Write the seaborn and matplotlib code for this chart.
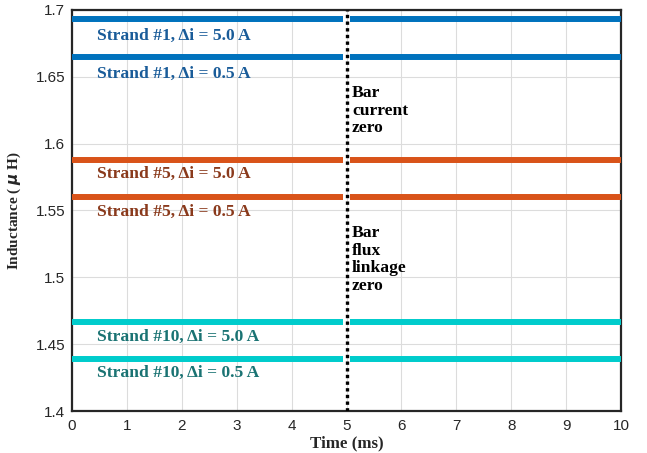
import matplotlib
matplotlib.use("Agg")
import matplotlib.pyplot as plt
import seaborn as sns
import pandas as pd

# Inductance of each strand before and after the bar-zero instant (µH)
series_names = [
    "Strand #1, Δi = 5.0 A",
    "Strand #1, Δi = 0.5 A",
    "Strand #5, Δi = 5.0 A",
    "Strand #5, Δi = 0.5 A",
    "Strand #10, Δi = 5.0 A",
    "Strand #10, Δi = 0.5 A",
]
inductance_before = [1.693, 1.665, 1.5878, 1.5603, 1.4666, 1.4391]
inductance_after = [1.693, 1.665, 1.5878, 1.5603, 1.4666, 1.4391]

# Time spans of the two segments (ms), interrupted around the 5 ms event
segment_before = [0.0, 4.93]
segment_after = [5.07, 10.0]
event_time = 5.0

line_colors = ["#0072BD", "#0072BD", "#D95319", "#D95319", "#00CCCC", "#00CCCC"]
label_colors = ["#1A5C99", "#1A5C99", "#8A3A1C", "#8A3A1C", "#1A7373", "#1A7373"]
label_x = [0.46, 0.46, 0.46, 0.46, 0.46, 0.46]
label_y = [1.6805, 1.6521, 1.5771, 1.5491, 1.4551, 1.4282]

event_notes = ["Bar\ncurrent\nzero", "Bar\nflux\nlinkage\nzero"]
note_x = [5.1, 5.1]
note_y = [1.6438, 1.5390]

x_ticks = list(range(0, 11))
y_ticks = [1.4, 1.45, 1.5, 1.55, 1.6, 1.65, 1.7]
y_tick_labels = ["1.4", "1.45", "1.5", "1.55", "1.6", "1.65", "1.7"]

rows = []
for name, vb, va in zip(series_names, inductance_before, inductance_after):
    for t in segment_before:
        rows.append({"time": t, "L": vb, "series": name, "segment": "before"})
    for t in segment_after:
        rows.append({"time": t, "L": va, "series": name, "segment": "after"})
df = pd.DataFrame(rows)

sns.set_style("white")
plt.rcParams["font.family"] = ["Liberation Sans", "DejaVu Sans"]

fig = plt.figure(figsize=(6.47, 4.53), dpi=100)
ax = fig.add_axes([0.1113, 0.0927, 0.8485, 0.8853])

for name, lc in zip(series_names, line_colors):
    for seg in ["before", "after"]:
        sub = df[(df["series"] == name) & (df["segment"] == seg)]
        sns.lineplot(data=sub, x="time", y="L", color=lc, linewidth=4.3,
                     solid_capstyle="butt", ax=ax, legend=False, zorder=3)

ax.axvline(event_time, color="black", linestyle=(0, (1, 1)), linewidth=2.4, zorder=4)

serif = ["Liberation Serif", "DejaVu Serif"]
for name, tx, ty, tc in zip(series_names, label_x, label_y, label_colors):
    ax.text(tx, ty, name, color=tc, fontsize=12.6, fontweight="bold",
            family=serif, va="center", ha="left", zorder=5)

for note, nx, ny in zip(event_notes, note_x, note_y):
    ax.text(nx, ny, note, color="black", fontsize=12.6, fontweight="bold",
            family=serif, va="top", ha="left", linespacing=1.13, zorder=5)

ax.set_xlim(0, 10)
ax.set_ylim(1.4, 1.7)
ax.set_xticks(x_ticks)
ax.set_yticks(y_ticks)
ax.set_yticklabels(y_tick_labels)
ax.grid(True, color="#dcdcdc", linewidth=0.8, zorder=0)
ax.set_axisbelow(True)
ax.tick_params(direction="in", length=4, width=1, colors="#262626",
               labelsize=11, top=False, right=False)
ax.tick_params(axis="x", pad=6)
ax.tick_params(axis="y", pad=5)
for spine in ax.spines.values():
    spine.set_color("#262626")
    spine.set_linewidth(1.6)

ax.set_xlabel("Time (ms)", fontsize=12.2, fontweight="bold", family=serif,
              color="#262626", labelpad=1.5)
ax.set_ylabel(r"Inductance ( $\boldsymbol{\mu}$ H)", fontsize=11, fontweight="bold",
              family=serif, color="#262626")
ax.yaxis.set_label_coords(-0.089, 0.5)

fig.savefig("out.png", dpi=100)
